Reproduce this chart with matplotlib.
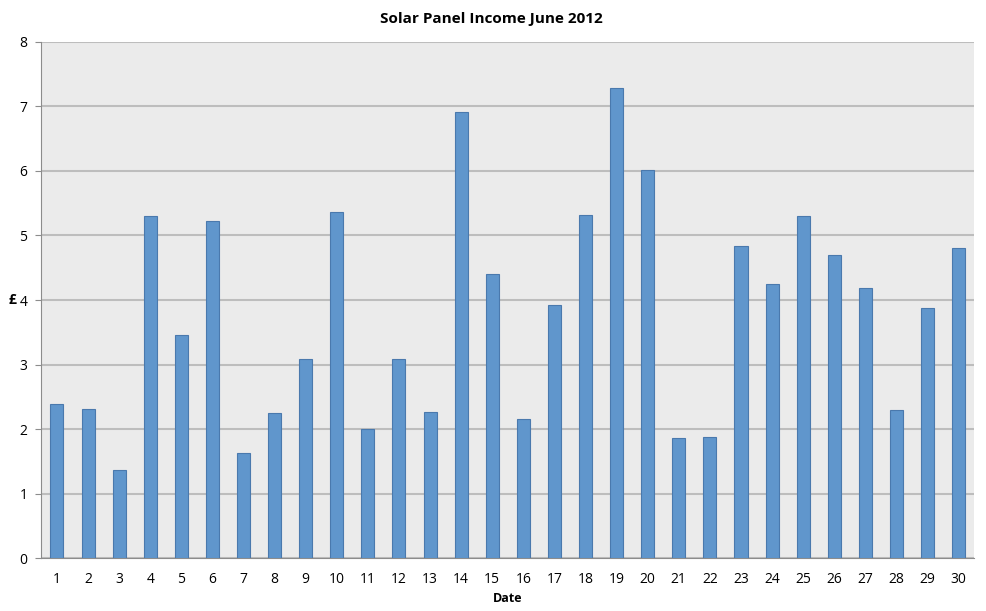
import matplotlib
matplotlib.use("Agg")
import matplotlib.pyplot as plt

plt.rcParams['font.family'] = ['Open Sans', 'DejaVu Sans']

dates = list(range(1, 31))
income = [2.39, 2.31, 1.37, 5.30, 3.45, 5.22, 1.63, 2.25, 3.09, 5.36,
          2.00, 3.09, 2.27, 6.91, 4.41, 2.16, 3.93, 5.31, 7.28, 6.01,
          1.86, 1.88, 4.83, 4.25, 5.30, 4.70, 4.19, 2.30, 3.87, 4.80]
yticks = [0, 1, 2, 3, 4, 5, 6, 7, 8]

fig = plt.figure(figsize=(9.86, 6.11), dpi=100)
ax = fig.add_axes([0.042, 0.0867, 0.946, 0.8446])
ax.set_facecolor('#EBEBEB')
ax.bar(dates, income, width=0.42, color='#6096CC', edgecolor='#4A79AD', linewidth=0.8, zorder=3)
ax.set_xlim(0.5, 30.5)
ax.set_ylim(0, 8)
ax.set_yticks(yticks)
ax.set_xticks(dates)
ax.grid(axis='y', color='#BDBDBD', linewidth=1.5, zorder=0)
for s in ['top', 'right']:
    ax.spines[s].set_visible(False)
ax.spines['left'].set_color('#8C8C8C')
ax.spines['bottom'].set_color('#8C8C8C')
ax.tick_params(axis='y', length=4, color='#8C8C8C', labelsize=10, pad=6)
ax.tick_params(axis='x', length=0, labelsize=10, pad=10)
fig.text(0.498, 0.957, 'Solar Panel Income June 2012', fontsize=11, fontweight='bold',
         ha='center', va='bottom')
ax.set_xlabel('Date', fontsize=9, fontweight='bold', labelpad=4)
ax.set_ylabel('£', fontsize=10, fontweight='bold', rotation=0, va='center', ha='center')
ax.yaxis.set_label_coords(-0.031, 0.5)
fig.savefig('out.png', dpi=100, facecolor='white')
